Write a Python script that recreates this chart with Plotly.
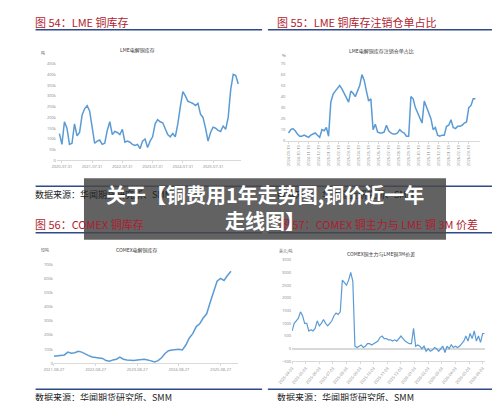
import plotly.graph_objects as go

W, H = 500, 401
def fx(p): return p / W
def fy(p): return 1 - p / H

# Panel 1: LME copper inventory (tonnes), monthly from 2020-07
lme_inv = [125000, 75000, 180000, 150000, 75000, 80000, 170000, 115000, 130000, 210000, 240000, 255000,
           230000, 150000, 80000, 90000, 95000, 75000, 80000, 140000, 180000, 120000, 135000, 130000,
           120000, 145000, 85000, 90000, 85000, 75000, 70000, 75000, 55000, 90000, 100000, 60000,
           90000, 110000, 170000, 190000, 180000, 175000, 150000, 120000, 110000, 125000, 110000, 170000,
           250000, 320000, 300000, 275000, 270000, 265000, 255000, 265000, 215000, 200000, 150000, 90000,
           130000, 155000, 150000, 140000, 135000, 160000, 145000, 200000, 330000, 400000, 395000, 355000]
lme_ticks = ["2020-07-31", "2021-07-31", "2022-07-31", "2023-07-31", "2024-07-31", "2025-07-31"]

# Panel 2: LME cancelled warrants ratio (%)
cw_ratio = [7, 10, 11, 9, 6, 4, 4, 5, 4, 3, 5, 6, 7, 5, 3, 10, 9, 12, 4, 35, 42, 45, 48, 50, 47, 43, 40,
            35, 45, 43, 40, 45, 50, 60, 55, 45, 36, 38, 10, 15, 8, 7, 7, 8, 14, 9, 7, 6, 6, 7, 10, 8, 7,
            4, 4, 40, 38, 30, 25, 20, 16, 36, 30, 25, 20, 10, 12, 5, 4, 5, 5, 13, 14, 19, 12, 11, 13, 13,
            14, 16, 17, 30, 32, 38, 38]
cw_ticks = ["2024-09-19", "2024-10-19", "2024-11-19", "2024-12-19", "2025-01-19", "2025-02-19",
            "2025-03-19", "2025-04-19", "2025-05-19", "2025-06-19", "2025-07-19", "2025-08-19",
            "2025-09-19", "2025-10-19", "2025-11-19", "2025-12-19", "2026-01-19", "2026-02-19", "2026-03-19"]

# Panel 3: COMEX copper inventory (short tons)
comex_inv = [50000, 55000, 60000, 60000, 80000, 72000, 75000, 85000, 80000, 65000, 55000, 45000, 40000,
             38000, 35000, 20000, 15000, 25000, 30000, 45000, 30000, 25000, 20000, 20000, 25000, 30000,
             30000, 25000, 15000, 10000, 20000, 40000, 70000, 90000, 95000, 100000, 100000, 95000, 130000,
             180000, 210000, 260000, 280000, 320000, 350000, 430000, 500000, 580000, 600000, 585000,
             620000, 650000]
comex_ticks = ["2021-08-27", "2022-08-27", "2023-08-27", "2024-08-27", "2025-08-27"]

# Panel 4: COMEX - LME 3M spread (USD/t)
spread = [700, 1000, 1100, 1200, 1450, 1300, 1000, 1000, 700, 750, 700, 800, 1100, 900, 1000, 1150, 1000,
          900, 1000, 1100, 1300, 1400, 1350, 1450, 2700, 2600, 2500, 2700, 3000, 2650, 100, 50, 100, 150,
          50, 100, 200, 200, 150, 200, 250, 300, 450, 500, 400, 400, 350, 350, 300, 350, 300, 400, 500,
          400, 300, 250, 200, 200, 800, 100, 150, 100, 0, 100, -100, 0, -100, -50, 50, 0, -100, 0, 100,
          -150, 100, 0, 150, 50, 100, 50, 100, 200, 300, 500, 300, 600, 400, 700, 300, 500, 250, 600, 600]
spread_ticks = ["2025-04-03", "2025-05-03", "2025-06-03", "2025-07-03", "2025-08-03", "2025-09-03",
                "2025-10-03", "2025-11-03", "2025-12-03", "2026-01-03", "2026-02-03", "2026-03-03",
                "2026-04-03", "2026-05-03", "2026-06-03"]

BLUE = "#5b9bd5"
fig = go.Figure()
fig.add_trace(go.Scatter(x=list(range(len(lme_inv))), y=lme_inv, mode="lines",
                         line=dict(color=BLUE, width=1.5), xaxis="x", yaxis="y"))
fig.add_trace(go.Scatter(x=list(range(len(cw_ratio))), y=cw_ratio, mode="lines",
                         line=dict(color=BLUE, width=1.5), xaxis="x2", yaxis="y2"))
fig.add_trace(go.Scatter(x=list(range(len(comex_inv))), y=comex_inv, mode="lines",
                         line=dict(color=BLUE, width=1.5), xaxis="x3", yaxis="y3"))
fig.add_trace(go.Scatter(x=list(range(len(spread))), y=spread, mode="lines",
                         line=dict(color=BLUE, width=1.2), xaxis="x4", yaxis="y4"))

tf = dict(size=4, color="#888")
def xax(dom, y, rng, vals, labels, angle=0):
    return dict(domain=dom, anchor=y, range=rng, tickvals=vals, ticktext=labels, tickangle=angle,
                showgrid=False, zeroline=False, showline=True, linecolor="#d9d9d9", tickfont=tf,
                ticks="outside", ticklen=2, tickcolor="#d9d9d9")
def yax(dom, x, rng, dt):
    return dict(domain=dom, anchor=x, range=rng, dtick=dt, showgrid=False, zeroline=False,
                tickfont=tf, showline=False)

fig.update_layout(
    width=W, height=H, margin=dict(l=0, r=0, t=0, b=0), showlegend=False,
    paper_bgcolor="white", plot_bgcolor="white",
    xaxis=xax([fx(35), fx(225)], "y", [-1, 72], [1 + 12 * i for i in range(6)], lme_ticks),
    yaxis=yax([fy(152), fy(52)], "x", [0, 460000], 50000),
    xaxis2=xax([fx(272), fx(472)], "y2", [-1, 86], [i * 4.5 for i in range(19)], cw_ticks, -90),
    yaxis2=yax([fy(132), fy(53)], "x2", [0, 71], 10),
    xaxis3=xax([fx(32), fx(222)], "y3", [0, 53], [0, 12, 24, 36, 48], comex_ticks),
    yaxis3=yax([fy(357), fy(256)], "x3", [0, 705000], 100000),
    xaxis4=xax([fx(278), fx(477)], "y4", [0, 92], [i * 6.5 for i in range(15)], spread_ticks, -50),
    yaxis4=yax([fy(355), fy(251)], "x4", [-500, 3550], 500),
)
fig.update_layout(yaxis4=dict(zeroline=True, zerolinecolor="#d9d9d9"))

RED = "#b01c2e"
NAVY = "#2f4a8a"
ann = []
shapes = []
def txt(x, y, s, size, color, xanchor="left", bold=False):
    ann.append(dict(x=fx(x), y=fy(y), xref="paper", yref="paper", text=("<b>%s</b>" % s) if bold else s,
                    showarrow=False, xanchor=xanchor, yanchor="middle",
                    font=dict(size=size, color=color, family="Noto Sans CJK SC")))
def hline(x0, x1, y):
    shapes.append(dict(type="line", xref="paper", yref="paper", x0=fx(x0), x1=fx(x1), y0=fy(y), y1=fy(y),
                       line=dict(color=NAVY, width=1.5)))

for (x, y, s) in [(10, 12, "图 54：LME 铜库存"), (260, 12, "图 55：LME 铜库存注销仓单占比"),
                  (10, 216, "图 56：COMEX 铜库存"), (262, 216, "图 57：COMEX 铜主力与 LME 铜 3M 价差")]:
    txt(x, y, s, 11, RED)
for (a, b, y) in [(13, 247, 20), (253, 495, 20), (13, 247, 225), (253, 495, 225),
                  (13, 247, 178), (253, 495, 178), (13, 247, 383), (253, 495, 383)]:
    hline(a, b, y)
for (x, y) in [(10, 186), (260, 186), (10, 391), (260, 391)]:
    txt(x, y, "数据来源：华闻期货研究所、SMM", 9, "#222")
txt(118, 40, "LME电解铜库存", 5, "#333", "center")
txt(370, 41, "LME电解铜库存注销仓单占比", 5, "#333", "center")
txt(118, 242, "COMEX电解铜库存", 5, "#333", "center")
txt(370, 246, "COMEX铜主力与LME铜3M价差", 5, "#333", "center")
txt(17, 43, "吨", 4, "#666")
txt(265, 45, "%", 4, "#666")
txt(17, 242, "短吨", 4, "#666")
txt(262, 243, "美元/吨", 4, "#666")

shapes.append(dict(type="rect", xref="paper", yref="paper", x0=fx(63), x1=fx(437), y0=fy(232), y1=fy(170),
                   fillcolor="rgba(70,70,70,0.85)", line=dict(width=0), layer="above"))
ann.append(dict(x=0.5, y=fy(186), xref="paper", yref="paper", showarrow=False,
                text="<b>关于【铜费用1年走势图,铜价近一年</b>",
                font=dict(size=20, color="white", family="Noto Sans CJK SC")))
ann.append(dict(x=0.5, y=fy(213), xref="paper", yref="paper", showarrow=False,
                text="<b>走线图】</b>", font=dict(size=20, color="white", family="Noto Sans CJK SC")))
fig.update_layout(annotations=ann, shapes=shapes)
fig.write_html("out.html")
